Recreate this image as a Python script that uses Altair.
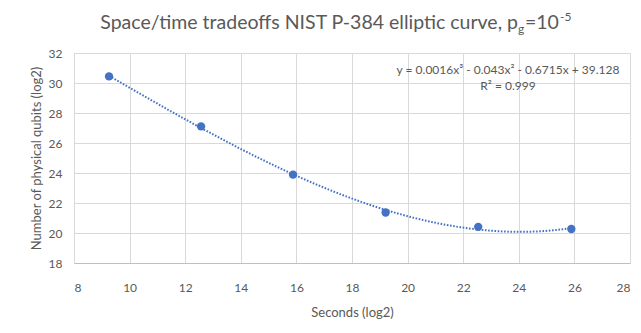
import altair as alt
import pandas as pd

# Data
seconds_log2 = [9.26, 12.57, 15.88, 19.21, 22.54, 25.89]
qubits_log2 = [30.44, 27.11, 23.89, 21.37, 20.41, 20.27]

x_ticks = [8, 10, 12, 14, 16, 18, 20, 22, 24, 26, 28]
y_ticks = [18, 20, 22, 24, 26, 28, 30, 32]

title_main = "Space/time tradeoffs NIST P-384 elliptic curve, p"
title_sub = "g"
title_mid = "=10"
title_sup = "-5"
eq_line1 = "y = 0.0016x³ - 0.043x² - 0.6715x + 39.128"
eq_line2 = "R² = 0.999"

df = pd.DataFrame({"seconds": seconds_log2, "qubits": qubits_log2})

FONT = "Lato"
GREY = "#595959"
BLUE = "#4472C4"

xs = alt.Scale(domain=[8, 28], nice=False, zero=False)
ys = alt.Scale(domain=[18, 32], nice=False, zero=False)

xax = alt.Axis(values=x_ticks, title="Seconds (log2)", grid=True, gridColor="#D9D9D9",
               domain=True, domainColor="#BFBFBF", ticks=False, labelPadding=19,
               labelFont=FONT, labelFontSize=12, labelColor=GREY,
               titleFont=FONT, titleFontSize=13, titleColor=GREY, titleFontWeight="normal",
               titlePadding=13)
yax = alt.Axis(values=y_ticks, title="Number of physical qubits (log2)", grid=True,
               gridColor="#D9D9D9", domain=True, domainColor="#D9D9D9", ticks=False,
               labelPadding=12, labelFont=FONT, labelFontSize=12, labelColor=GREY,
               titleFont=FONT, titleFontSize=13, titleColor=GREY, titleFontWeight="normal",
               titleX=-38, titleY=105, titleBaseline="middle", titleAlign="center",
               titleAngle=270)

base = alt.Chart(df)

trend = base.transform_regression(
    "seconds", "qubits", method="poly", order=3, extent=[seconds_log2[0], seconds_log2[-1]]
).mark_line(color=BLUE, strokeWidth=2, strokeDash=[1.6, 1.6]).encode(
    x=alt.X("seconds:Q", scale=xs, axis=xax),
    y=alt.Y("qubits:Q", scale=ys, axis=yax),
)

points = base.mark_point(filled=True, size=70, color=BLUE, opacity=1).encode(
    x=alt.X("seconds:Q", scale=xs, axis=xax),
    y=alt.Y("qubits:Q", scale=ys, axis=yax),
)


def txt(s, x, y, size, align="left", baseline="alphabetic"):
    return alt.Chart(pd.DataFrame({"t": [s]})).mark_text(
        font=FONT, fontSize=size, color=GREY, align=align, baseline=baseline
    ).encode(text="t:N", x=alt.value(x), y=alt.value(y))


title_layers = [
    txt(title_main, 444, -24, 19.5, align="right"),
    txt(title_sub, 444, -20, 12),
    txt(title_mid, 451, -24, 19.5),
    txt(title_sup, 486, -32, 12),
]
eq_layers = [
    txt(eq_line1, 434, 17, 12, align="center", baseline="middle"),
    txt(eq_line2, 434, 33, 12, align="center", baseline="middle"),
]

chart = alt.layer(trend, points, *title_layers, *eq_layers).properties(
    width=556, height=210,
    padding={"left": 66, "top": 45, "right": 3, "bottom": 62},
    autosize=alt.AutoSizeParams(type="none"),
    background="white",
).configure_view(strokeWidth=0)

chart.save("out.html", embed_options={"renderer": "svg", "actions": False})
